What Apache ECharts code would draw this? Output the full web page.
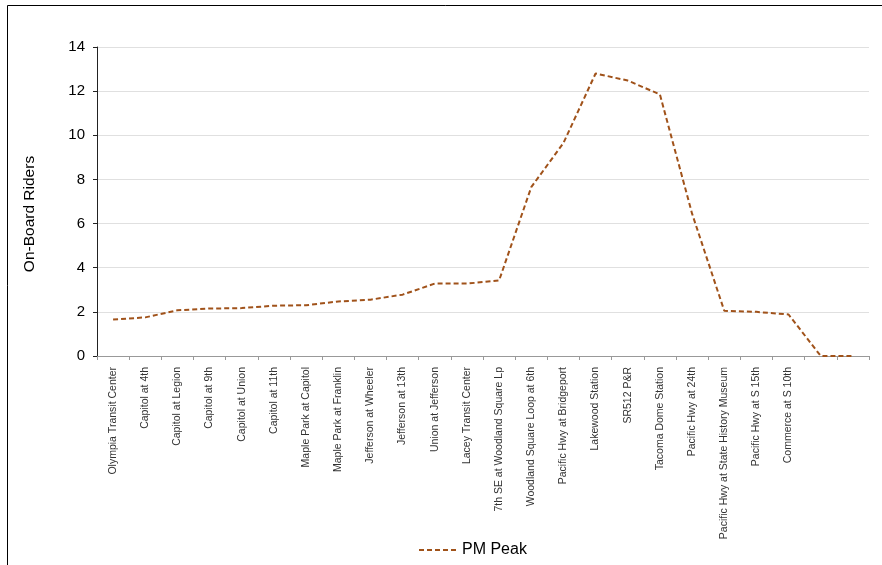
<!DOCTYPE html>
<html>
<head>
<meta charset="utf-8">
<script src="https://cdn.jsdelivr.net/npm/echarts@6/dist/echarts.min.js"></script>
<style>html,body{margin:0;padding:0;background:#fff;}#c{width:882px;height:565px;}</style>
</head>
<body>
<div id="c"></div>
<script>
const categories = [
  "Olympia Transit Center", "Capitol at 4th", "Capitol at Legion", "Capitol at 9th",
  "Capitol at Union", "Capitol at 11th", "Maple Park at Capitol", "Maple Park at Franklin",
  "Jefferson at Wheeler", "Jefferson at 13th", "Union at Jefferson", "Lacey Transit Center",
  "7th SE at Woodland Square Lp", "Woodland Square Loop at 6th", "Pacific Hwy at Bridgeport",
  "Lakewood Station", "SR512 P&R", "Tacoma Dome Station", "Pacific Hwy at 24th",
  "Pacific Hwy at State History Museum", "Pacific Hwy at S 15th", "Commerce at S 10th", "", " "
];
const pmPeak = [1.65, 1.75, 2.07, 2.15, 2.17, 2.28, 2.3, 2.47, 2.55, 2.78, 3.28, 3.28,
  3.42, 7.65, 9.65, 12.8, 12.48, 11.85, 6.45, 2.05, 2.0, 1.88, 0, 0];
const yTicks = [0, 2, 4, 6, 8, 10, 12, 14];
const seriesName = "PM Peak";
const yAxisTitle = "On-Board Riders";

const chart = echarts.init(document.getElementById('c'), null, {renderer: 'canvas'});
chart.setOption({
  backgroundColor: '#fff',
  animation: false,
  grid: {left: 97, right: 13, top: 47, bottom: 209, containLabel: false},
  xAxis: {
    type: 'category',
    data: categories,
    boundaryGap: true,
    axisLine: {lineStyle: {color: '#999', width: 1}},
    axisTick: {show: true, length: 4, alignWithLabel: false, interval: 0, lineStyle: {color: '#999'}},
    axisLabel: {
      interval: 0, rotate: 90, margin: 11,
      fontFamily: '"Liberation Sans", Arial, sans-serif',
      fontSize: 10.5, color: '#333'
    }
  },
  yAxis: {
    type: 'value',
    min: yTicks[0], max: yTicks[yTicks.length - 1], interval: 2,
    axisLine: {show: true, lineStyle: {color: '#222', width: 1}},
    axisTick: {show: true, length: 4, lineStyle: {color: '#222'}},
    axisLabel: {fontFamily: '"Liberation Sans", Arial, sans-serif', fontSize: 15, color: '#000', margin: 12},
    splitLine: {show: true, lineStyle: {color: '#e0e0e0', width: 1}}
  },
  legend: {
    top: 537, left: 413,
    itemWidth: 40, itemHeight: 14, itemGap: 4,
    data: [{name: seriesName, itemStyle: {opacity: 0}}],
    textStyle: {fontFamily: '"Liberation Sans", Arial, sans-serif', fontSize: 16, color: '#000', padding: [0,0,0,-2]}
  },
  graphic: [
    {type: 'rect', shape: {x: 7.5, y: 5.5, width: 900, height: 600}, style: {fill: 'none', stroke: '#000', lineWidth: 1}, silent: true},
    {type: 'text', x: 30, y: 214, rotation: Math.PI / 2,
     style: {text: yAxisTitle, fontFamily: '"Liberation Sans", Arial, sans-serif', fontSize: 15.5, fill: '#000', align: 'center', verticalAlign: 'middle'}}
  ],
  series: [{
    name: seriesName,
    type: 'line',
    data: pmPeak,
    symbol: 'none',
    smooth: false,
    lineStyle: {color: '#A0521A', width: 2, type: [5, 3]},
    itemStyle: {color: '#A0521A'}
  }]
});
</script>
</body>
</html>
